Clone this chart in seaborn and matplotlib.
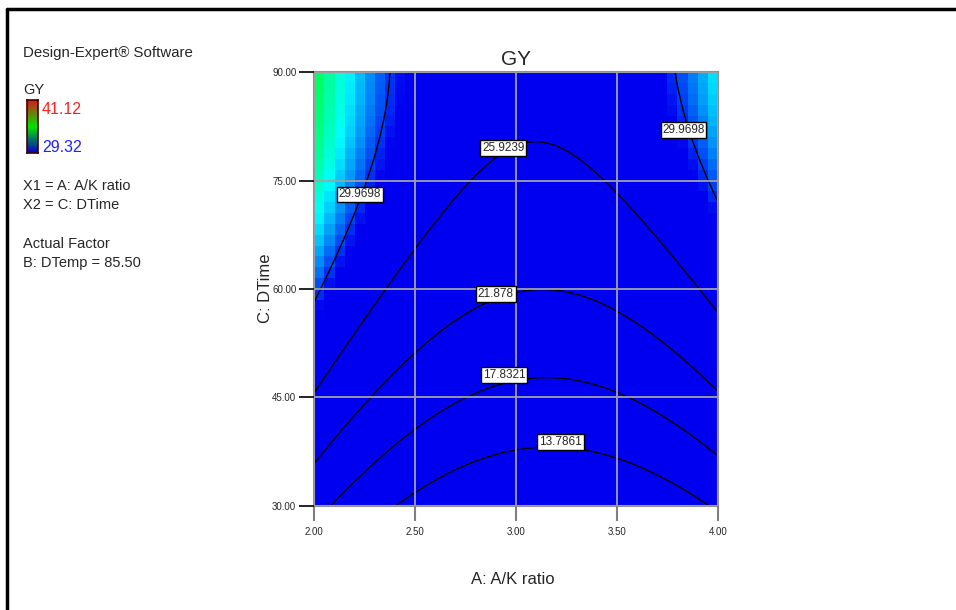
import numpy as np
import matplotlib
matplotlib.use("Agg")
import matplotlib.pyplot as plt
from matplotlib.colors import LinearSegmentedColormap
import seaborn as sns

sns.set_style("white")
plt.rcParams['font.family'] = ['Liberation Sans', 'DejaVu Sans']

# ---- data ----
contour_levels = [13.7861, 17.8321, 21.878, 25.9239, 29.9698]
# points on the contour lines (A, C, level)
pts_A = [2.40, 3.17, 3.96,
         2.08, 3.14, 4.00,
         2.00, 3.12, 4.00,
         2.00, 2.50, 3.00, 3.50, 4.00,
         2.00, 2.25, 2.34, 3.80, 4.00,
         2.00, 4.00]
pts_C = [30.0, 37.9, 30.0,
         30.0, 47.4, 37.0,
         35.9, 59.5, 45.6,
         45.7, 65.6, 80.6, 72.8, 57.8,
         58.4, 75.0, 90.0, 90.0, 71.6,
         90.0, 90.0]
pts_Y = [13.7861, 13.7861, 13.7861,
         17.8321, 17.8321, 17.8321,
         21.878, 21.878, 21.878,
         25.9239, 25.9239, 25.9239, 25.9239, 25.9239,
         29.9698, 29.9698, 29.9698, 29.9698, 29.9698,
         34.8, 32.4]   # last two: corner colours
color_min, color_max = 29.32, 41.12
x_ticks = [2.00, 2.50, 3.00, 3.50, 4.00]
y_ticks = [30.00, 45.00, 60.00, 75.00, 90.00]
label_A = [2.227, 2.936, 2.90, 2.94, 3.22, 3.83]
label_C = [73.1, 79.5, 59.3, 48.1, 38.8, 82.0]
label_txt = ["29.9698", "25.9239", "21.878", "17.8321", "13.7861", "29.9698"]

# ---- quadratic response-surface model fitted to the read points ----
A = np.array(pts_A); C = np.array(pts_C); Y = np.array(pts_Y)
X = np.column_stack([np.ones_like(A), A, C, A * C, A ** 2, C ** 2])
coef, *_ = np.linalg.lstsq(X, Y, rcond=None)

def model(a, c):
    return coef[0] + coef[1]*a + coef[2]*c + coef[3]*a*c + coef[4]*a**2 + coef[5]*c**2

fig = plt.figure(figsize=(9.56, 6.10), dpi=100)
ax = fig.add_axes([0.3288, 0.171, 0.422, 0.7105])

# pixelated colour map
ncell = 40
ae = np.linspace(2, 4, ncell + 1); ce = np.linspace(30, 90, ncell + 1)
ac = (ae[:-1] + ae[1:]) / 2; cc = (ce[:-1] + ce[1:]) / 2
AA, CC = np.meshgrid(ac, cc)
cmap = LinearSegmentedColormap.from_list(
    "de", [(0, 0, 0.94), (0, 1, 1), (0, 1, 0), (1, 1, 0), (1, 0, 0)])
ax.pcolormesh(ae, ce, model(AA, CC), cmap=cmap, vmin=color_min, vmax=color_max,
              shading="flat")

# smooth contours
af = np.linspace(2, 4, 300); cf = np.linspace(30, 90, 300)
AF, CF = np.meshgrid(af, cf)
ax.contour(AF, CF, model(AF, CF), levels=contour_levels, colors="black",
           linewidths=1.0)

for a, c, t in zip(label_A, label_C, label_txt):
    ax.text(a, c, t, ha="center", va="center", fontsize=8.5, zorder=5,
            bbox=dict(boxstyle="square,pad=0.15", fc="white", ec="black", lw=1))

ax.set_xlim(2, 4); ax.set_ylim(30, 90)
ax.set_xticks(x_ticks); ax.set_yticks(y_ticks)
ax.set_xticklabels([f"{v:.2f}" for v in x_ticks], fontsize=7)
ax.set_yticklabels([f"{v:.2f}" for v in y_ticks], fontsize=7)
ax.grid(True, color="#a0a0a8", lw=1.3)
ax.set_axisbelow(False)
ax.tick_params(axis="x", length=11, width=1.5, color="#808080", pad=4, bottom=True)
ax.tick_params(axis="y", length=11, width=1.2, color="black", pad=2, left=True)
for s in ax.spines.values():
    s.set_color("#909090"); s.set_linewidth(1.5)

ax.set_title("GY", fontsize=15, pad=5)
fig.text(513/956, 1 - 580/610, "A: A/K ratio", ha="center", va="center", fontsize=12)
fig.text(265/956, 1 - 288/610, "C: DTime", ha="center", va="center", fontsize=12,
         rotation=90)

# left info block
def ftxt(x, y, s, fs=10.5, **kw):
    fig.text(x/956, 1 - y/610, s, ha="left", va="center", fontsize=fs, **kw)
ftxt(23, 53, "Design-Expert® Software", fs=10.8)
ftxt(23, 90, "GY")
ftxt(42, 110, "41.12", fs=11.5, color="#ff2020")
ftxt(42, 148, "29.32", fs=11.5, color="#2020ff")
ftxt(23, 186, "X1 = A: A/K ratio")
ftxt(23, 205, "X2 = C: DTime")
ftxt(23, 244, "Actual Factor")
ftxt(23, 263, "B: DTemp = 85.50")

cax = fig.add_axes([27/956, 1 - 153/610, 11/956, 53/610])
grad = LinearSegmentedColormap.from_list("lg", [(0, 0, 0.8), (0, 0.9, 0), (0.85, 0.1, 0.1)])
cax.imshow(np.linspace(1, 0, 100).reshape(-1, 1), aspect="auto", cmap=grad)
cax.set_xticks([]); cax.set_yticks([])
for s in cax.spines.values():
    s.set_color("#400000"); s.set_linewidth(1.2)

# figure border (top and left visible)
fig.add_artist(plt.Line2D([7/956, 7/956], [0, 1 - 9/610], color="black", lw=2.5))
fig.add_artist(plt.Line2D([7/956, 1], [1 - 9/610, 1 - 9/610], color="black", lw=2.5))

fig.savefig("out.png", dpi=100)
